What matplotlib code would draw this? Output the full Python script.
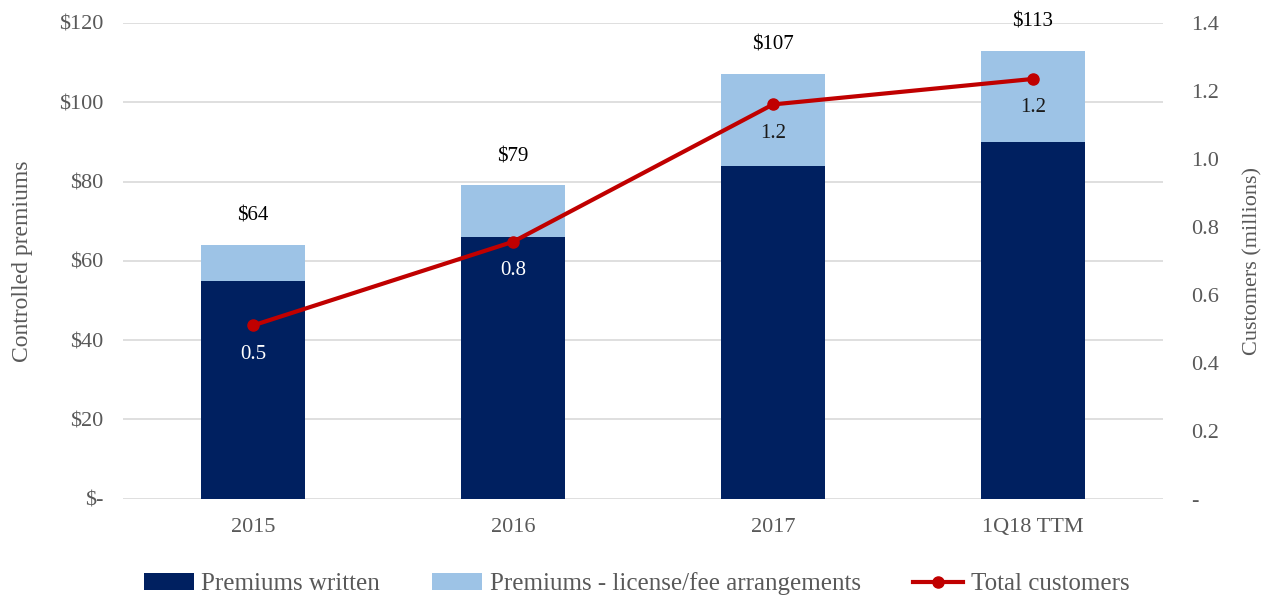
import numpy as np
import matplotlib.pyplot as plt
from matplotlib.ticker import FuncFormatter

# data
categories = ["2015", "2016", "2017", "1Q18 TTM"]
premiums_written = [55, 66, 84, 90]
premiums_license = [9, 13, 23, 23]
totals = [64, 79, 107, 113]
customers = [0.51, 0.756, 1.16, 1.235]
customer_labels = ["0.5", "0.8", "1.2", "1.2"]

navy = "#002060"
light = "#9DC3E6"
red = "#C00000"
grey = "#595959"

plt.rcParams['font.family'] = ['Liberation Serif', 'DejaVu Serif']

fig = plt.figure(figsize=(12.73, 6.01), dpi=100)
ax = fig.add_axes([0.0966, 0.170, 0.817, 0.792])
x = np.arange(len(categories))

ax.bar(x, premiums_written, width=0.4, color=navy, label="Premiums written", zorder=2)
ax.bar(x, premiums_license, width=0.4, bottom=premiums_written, color=light,
       label="Premiums - license/fee arrangements", zorder=2)

for xi, t in zip(x, totals):
    ax.annotate("$%d" % t, (xi, t), xytext=(0, 14), textcoords="offset points",
                ha="center", va="bottom", fontsize=15, color="black")

ax.set_ylim(0, 120)
ax.set_yticks(np.arange(0, 121, 20))
ax.yaxis.set_major_formatter(FuncFormatter(lambda v, p: "$-" if v == 0 else "$%d" % v))
ax.set_xlim(-0.5, 3.5)
ax.set_xticks(x)
ax.set_xticklabels(categories)
ax.grid(axis="y", color="#D9D9D9", linewidth=1.2, zorder=0)
ax.set_axisbelow(True)
ax.tick_params(length=0, labelsize=16, labelcolor=grey, pad=14)
ax.tick_params(axis="x", pad=14)
for s in ax.spines.values():
    s.set_visible(False)
ax.set_ylabel("Controlled premiums", fontsize=17, color=grey, labelpad=19)

ax2 = ax.twinx()
ax2.plot(x, customers, color=red, linewidth=3, marker="o", markersize=8,
         label="Total customers", zorder=3)
for xi, c, lab, col in zip(x, customers, customer_labels, ["white", "white", "#1a1a1a", "#1a1a1a"]):
    ax2.annotate(lab, (xi, c), xytext=(0, -14), textcoords="offset points",
                 ha="center", va="top", fontsize=15, color=col)
ax2.set_ylim(0, 1.4)
ax2.set_yticks(np.arange(0, 1.41, 0.2))
ax2.yaxis.set_major_formatter(FuncFormatter(lambda v, p: "-" if v < 0.01 else "%.1f" % v))
ax2.tick_params(length=0, labelsize=16, labelcolor=grey, pad=20)
for s in ax2.spines.values():
    s.set_visible(False)
ax2.set_ylabel("Customers (millions)", fontsize=16, color=grey, labelpad=18)

h1, l1 = ax.get_legend_handles_labels()
h2, l2 = ax2.get_legend_handles_labels()
fig.legend(h1 + h2, l1 + l2, loc="lower center", bbox_to_anchor=(0.5, -0.028),
           ncol=3, frameon=False, fontsize=18, handlelength=2.0, handleheight=0.7,
           columnspacing=2.1, handletextpad=0.3, labelcolor=grey)

fig.savefig("out.png", dpi=100)
